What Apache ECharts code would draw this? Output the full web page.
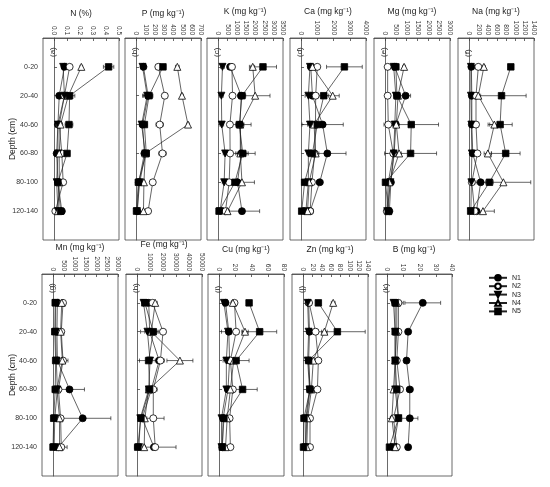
<!DOCTYPE html>
<html><head><meta charset="utf-8">
<script src="https://cdn.jsdelivr.net/npm/echarts@6/dist/echarts.min.js"></script>
<style>html,body{margin:0;padding:0;background:#fff}#c{width:550px;height:487px}</style>
</head><body><div id="c"></div>
<script>
// ---- categories ----
const depthLabels = ['0-20','20-40','40-60','60-80','80-100','120-140'];
const seriesNames = ['N1','N2','N3','N4','N5'];

// ---- tick labels ----
const ticksN  = [0,0.1,0.2,0.3,0.4,0.5];
const ticksP  = [0,100,200,300,400,500,600,700];
const ticksK  = [0,500,1000,1500,2000,2500,3000,3500];
const ticksCa = [0,1000,2000,3000,4000];
const ticksMg = [0,500,1000,1500,2000,2500,3000];
const ticksNa = [0,200,400,600,800,1000,1200,1400];
const ticksMn = [0,500,1000,1500,2000,2500,3000];
const ticksFe = [0,10000,20000,30000,40000,50000];
const ticksCu = [0,20,40,60,80];
const ticksZn = [0,20,40,60,80,100,120,140];
const ticksB  = [0,10,20,30,40];

// ---- values (rows: N1..N5, columns: depths) ----
const N_mean = [[0.08,0.04,0.03,0.02,0.03,0.06],[0.12,0.08,0.04,0.06,0.07,0.01],[0.07,0.08,0.03,0.03,0.02,0.03],[0.21,0.11,0.05,0.04,0.04,0.03],[0.42,0.12,0.115,0.10,0.03,0.05]];
const N_err  = [[0.01,0.01,0.01,0.01,0.01,0.01],[0.01,0.01,0.01,0.01,0.01,0.01],[0.01,0.02,0.01,0.01,0.01,0.01],[0.01,0.02,0.01,0.01,0.01,0.01],[0.04,0.04,0.03,0.02,0.01,0.01]];
const P_mean = [[80,130,70,90,30,15],[240,310,255,285,180,130],[70,120,60,100,40,10],[445,495,560,100,85,80],[290,140,90,110,25,5]];
const P_err  = [[20,50,20,30,10,10],[25,10,40,40,10,10],[15,50,20,20,10,5],[20,15,15,30,10,10],[30,40,30,30,10,5]];
const K_mean = [[650,1250,1180,1250,1050,1290],[750,780,640,650,600,400],[240,180,200,380,330,110],[1870,2000,1200,1200,1290,510],[2420,1290,1150,1330,910,55]];
const K_err  = [[100,200,600,300,200,950],[100,100,100,100,100,100],[100,100,100,100,100,50],[100,800,200,800,670,100],[730,200,200,300,300,50]];
const Ca_mean = [[600,700,1330,1620,1150,560],[1000,900,890,840,670,560],[550,450,550,450,450,300],[700,1950,800,900,500,400],[2670,1400,1000,700,220,40]];
const Ca_err  = [[100,150,1270,1150,200,100],[100,100,100,100,100,100],[100,200,150,100,100,50],[100,400,150,200,100,100],[1100,300,200,200,100,50]];
const Mg_mean = [[450,950,500,420,270,200],[120,120,150,380,150,80],[400,500,450,400,250,100],[880,600,520,650,200,150],[500,550,1210,1180,20,150]];
const Mg_err  = [[80,230,100,100,50,30],[30,30,40,50,30,30],[50,80,60,60,40,30],[60,100,80,100,40,30],[80,150,1260,1200,40,30]];
const Na_mean = [[50,60,60,80,250,160],[200,150,150,180,60,120],[40,40,50,60,50,40],[320,200,545,405,740,300],[900,700,670,790,440,35]];
const Na_err  = [[10,10,10,10,30,20],[20,20,20,20,10,20],[10,10,10,10,10,10],[30,50,100,80,590,245],[40,530,260,310,80,10]];
const Mn_mean = [[200,180,200,760,1370,250],[460,380,460,250,350,380],[120,120,150,200,80,50],[400,350,430,180,300,300],[100,80,120,100,30,0]];
const Mn_err  = [[50,50,50,690,1300,50],[60,60,230,60,80,270],[30,30,30,30,20,20],[50,50,50,50,50,50],[30,30,30,30,20,10]];
const Fe_mean = [[9000,9700,17000,11000,4000,13000],[12000,20000,18000,12500,12500,14000],[5000,8000,10000,9000,2500,1500],[14000,11000,33000,9000,6000,5500],[6000,12500,8900,9700,3000,500]];
const Fe_err  = [[1500,7000,3000,3000,1500,2000],[2000,2000,3000,3000,8300,16000],[1000,2000,2000,2000,1000,500],[1500,2000,10000,2000,1500,1000],[1000,3000,7000,3000,1000,300]];
const Cu_mean = [[8,12,13,11,5,4],[19,21,14,17,13,14],[6,11,9,9,3,3],[17,32,18,14,10,8],[37,50,21,29,6,4]];
const Cu_err  = [[2,9,3,3,2,1],[2,3,3,3,2,2],[1,2,2,2,1,1],[2,4,5,3,2,2],[3,21,16,18,2,1]];
const Zn_mean = [[12,14,12,15,8,6],[13,27,33,31,15,15],[10,12,10,14,6,5],[65,46,22,18,10,8],[33,74,12,15,2,1]];
const Zn_err  = [[2,2,2,2,2,1],[2,4,5,4,2,2],[1,2,2,2,1,1],[4,6,4,3,2,2],[4,60,3,3,1,1]];
const B_mean = [[22,13,12,14,14,13],[7,7,6,8,4,6],[4,5,5,5,7,4],[6,6,5,4,3,5],[5,5,5,6,7,1.5]];
const B_err  = [[11,1,1,2,5,1],[3,1,1,1,1,1],[1,1,1,1,1,1],[1,1,1,1,1,1],[1,1,1,1,1,0.5]];

const panelTitles = ['N (%)','P (mg kg⁻¹)','K (mg kg⁻¹)','Ca (mg kg⁻¹)','Mg (mg kg⁻¹)','Na (mg kg⁻¹)','Mn (mg kg⁻¹)','Fe (mg kg⁻¹)','Cu (mg kg⁻¹)','Zn (mg kg⁻¹)','B (mg kg⁻¹)'];
const panelTags = ['(a)','(b)','(c)','(d)','(e)','(f)','(g)','(h)','(i)','(j)','(k)'];
const panelTicks = [ticksN,ticksP,ticksK,ticksCa,ticksMg,ticksNa,ticksMn,ticksFe,ticksCu,ticksZn,ticksB];
const panelMeans = [N_mean,P_mean,K_mean,Ca_mean,Mg_mean,Na_mean,Mn_mean,Fe_mean,Cu_mean,Zn_mean,B_mean];
const panelErrs  = [N_err,P_err,K_err,Ca_err,Mg_err,Na_err,Mn_err,Fe_err,Cu_err,Zn_err,B_err];

// ---- layout (styling) ----
const FONT = 'Liberation Sans, Arial, sans-serif';
const boxes = [
  [43,38],[125,38],[207,38],[290,38],[374,38],[458,38],
  [42,274],[126,274],[208,274],[292,274],[376,274]
];
const BW = 76, BH = 202;
const yCats = [''].concat(depthLabels).concat(['']);
const symbolDefs = [
  {symbol:'circle', rot:0, fill:'#000'},
  {symbol:'circle', rot:0, fill:'#fff'},
  {symbol:'triangle', rot:180, fill:'#000'},
  {symbol:'triangle', rot:0, fill:'#fff'},
  {symbol:'rect', rot:0, fill:'#000'}
];

const grids=[], xAxes=[], yAxes=[], series=[], graphics=[];
panelTitles.forEach((title, p) => {
  const [l, t] = boxes[p];
  const ticks = panelTicks[p];
  const mx = ticks[ticks.length-1];
  const firstInRow = (p === 0 || p === 6);
  grids.push({left:l, top:t, width:BW, height:BH, show:true, borderColor:'#444', borderWidth:0.8, containLabel:false});
  xAxes.push({
    gridIndex:p, type:'value', position:'top',
    min: -0.17*mx, max: mx,
    axisLine:{show:true, onZero:false, lineStyle:{color:'#444', width:0.8}},
    axisTick:{show:true, inside:true, length:3, customValues:ticks, lineStyle:{color:'#444', width:0.8}},
    axisLabel:{show:true, customValues:ticks, rotate:90, fontSize:6.5, margin:3, color:'#333', fontFamily:FONT,
      formatter: v => p===0 ? v.toFixed(1) : String(v)},
    splitLine:{show:false},
    name:title, nameLocation:'middle', nameGap:20,
    nameTextStyle:{fontSize:8.5, color:'#222', fontFamily:FONT}
  });
  yAxes.push({
    gridIndex:p, type:'category', data:yCats, inverse:true, boundaryGap:false,
    axisLine:{show:true, lineStyle:{color:'#444', width:0.8}},
    axisTick:{show:true, inside:true, length:3, interval:(i)=> i>0 && i<7, lineStyle:{color:'#444', width:0.8}},
    axisLabel:{show:firstInRow, interval:(i)=> i>0 && i<7, fontSize:7, margin:5, color:'#333', fontFamily:FONT},
    splitLine:{show:false}
  });
  const means = panelMeans[p], errs = panelErrs[p];
  const errData = [];
  means.forEach((row, s) => row.forEach((v, d) => errData.push([v, d+1, errs[s][d]])));
  series.push({
    type:'custom', name:'err', xAxisIndex:p, yAxisIndex:p, z:2, silent:true,
    encode:{x:0, y:1},
    data: errData,
    renderItem:(params, api) => {
      const v = api.value(0), yi = api.value(1), e = api.value(2);
      const a = api.coord([v-e, yi]), b = api.coord([v+e, yi]);
      const st = {stroke:'#222', lineWidth:0.7};
      return {type:'group', children:[
        {type:'line', shape:{x1:a[0], y1:a[1], x2:b[0], y2:b[1]}, style:st},
        {type:'line', shape:{x1:a[0], y1:a[1]-2, x2:a[0], y2:a[1]+2}, style:st},
        {type:'line', shape:{x1:b[0], y1:b[1]-2, x2:b[0], y2:b[1]+2}, style:st}
      ]};
    }
  });
  means.forEach((row, s) => {
    const sd = symbolDefs[s];
    series.push({
      type:'line', name:seriesNames[s], xAxisIndex:p, yAxisIndex:p, z:3,
      data: row.map((v, d) => [v, d+1]),
      symbol:sd.symbol, symbolRotate:sd.rot, symbolSize: sd.symbol==='rect'?6.5:7,
      showAllSymbol:true,
      itemStyle:{color:sd.fill, borderColor:'#000', borderWidth:0.8},
      lineStyle:{color:'#222', width:0.7},
      animation:false
    });
  });
  graphics.push({type:'text', x:l+6, y:t+19, rotation:Math.PI/2,
    style:{text:panelTags[p], fontSize:8, fill:'#222', fontFamily:FONT, textAlign:'left', textVerticalAlign:'top'}});
});

graphics.push({type:'text', x:13, y:139, rotation:Math.PI/2,
  style:{text:'Depth (cm)', fontSize:8.5, fill:'#222', fontFamily:FONT, textAlign:'center', textVerticalAlign:'middle'}});
graphics.push({type:'text', x:13, y:375, rotation:Math.PI/2,
  style:{text:'Depth (cm)', fontSize:8.5, fill:'#222', fontFamily:FONT, textAlign:'center', textVerticalAlign:'middle'}});

const chart = echarts.init(document.getElementById('c'), null, {renderer:'canvas'});
chart.setOption({
  backgroundColor:'#fff',
  animation:false,
  grid:grids, xAxis:xAxes, yAxis:yAxes, series:series, graphic:graphics,
  legend:{
    data:seriesNames, orient:'vertical', left:488, top:274,
    itemWidth:18, itemHeight:7, itemGap:0.8, padding:0,
    textStyle:{fontSize:7, color:'#222', fontFamily:FONT}
  }
});
</script></body></html>
